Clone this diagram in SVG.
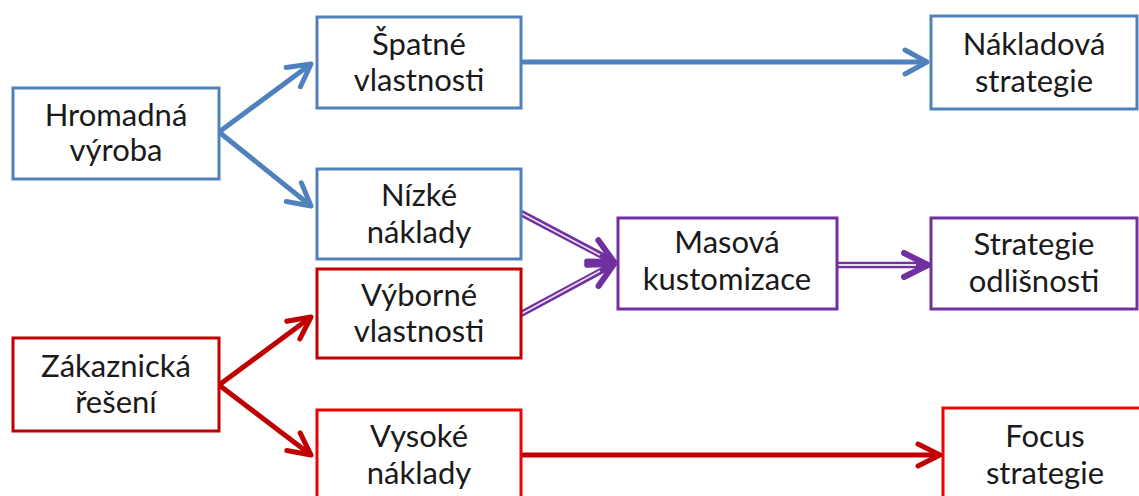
<svg xmlns="http://www.w3.org/2000/svg" width="1139" height="496" viewBox="0 0 1139 496">
<style>
.box{fill:#fff;stroke-width:3}
.b{stroke:#4F81BD}
.r{stroke:#C00000}
.rr{stroke:#F00000}
.p{stroke:#7030A0}
text{font-family:Lato,"Liberation Sans",sans-serif;font-size:31px;fill:#1a1a1a;text-anchor:middle}
.ln{fill:none;stroke-width:5}
.dbl{fill:none;stroke:#7030A0;stroke-width:6.5}
.dblw{fill:none;stroke:#e8e0ee;stroke-width:1.8}
</style>
<defs>
<marker id="hb" markerUnits="userSpaceOnUse" markerWidth="30" markerHeight="30" refX="0" refY="0" orient="auto" overflow="visible"><path d="M-22,-12 L0,0 L-22,12" fill="none" stroke="#4F81BD" stroke-width="5" stroke-linecap="round" stroke-linejoin="round"/></marker>
<marker id="hr" markerUnits="userSpaceOnUse" markerWidth="30" markerHeight="30" refX="0" refY="0" orient="auto" overflow="visible"><path d="M-22,-11 L0,0 L-22,11" fill="none" stroke="#C00000" stroke-width="5" stroke-linecap="round" stroke-linejoin="round"/></marker>
<marker id="hp" markerUnits="userSpaceOnUse" markerWidth="30" markerHeight="30" refX="0" refY="0" orient="auto" overflow="visible"><path d="M-24,-12 L0,0 L-24,12" fill="none" stroke="#7030A0" stroke-width="6" stroke-linecap="round" stroke-linejoin="round"/></marker>
</defs>
<rect width="1139" height="496" fill="#fff"/>
<g id="connectors">
<line class="ln b" x1="219" y1="132" x2="311" y2="64" marker-end="url(#hb)"/>
<line class="ln b" x1="219" y1="132" x2="311" y2="206" marker-end="url(#hb)"/>
<line class="ln b" x1="521" y1="62" x2="927" y2="62" marker-end="url(#hb)"/>
<line class="ln r" x1="219" y1="385" x2="311" y2="317" marker-end="url(#hr)"/>
<line class="ln r" x1="219" y1="385" x2="311" y2="455" marker-end="url(#hr)"/>
<line class="ln r" x1="521" y1="455" x2="940" y2="455" marker-end="url(#hr)"/>
<line class="dbl" x1="521" y1="213" x2="614" y2="262" marker-end="url(#hp)"/>
<line class="dblw" x1="521" y1="213" x2="600" y2="255"/>
<line class="dbl" x1="521" y1="314" x2="614" y2="264" marker-end="url(#hp)"/>
<line class="dblw" x1="521" y1="314" x2="600" y2="271"/>
<line class="dbl" x1="837" y1="265" x2="928" y2="265" marker-end="url(#hp)"/>
<line class="dblw" x1="837" y1="265" x2="916" y2="265"/>
</g>
<g id="hromadna"><rect class="box b" x="13" y="88" width="206" height="91"/><text x="116" y="126">Hromadná</text><text x="116" y="161">výroba</text></g>
<g id="spatne"><rect class="box b" x="317" y="17" width="204" height="91"/><text x="419" y="55">Špatné</text><text x="419" y="91">vlastnosti</text></g>
<g id="nizke"><rect class="box b" x="317" y="169" width="204" height="90"/><text x="419" y="206">Nízké</text><text x="419" y="243">náklady</text></g>
<g id="vyborne"><rect class="box r" x="317" y="269" width="204" height="89"/><text x="419" y="306">Výborné</text><text x="419" y="342">vlastnosti</text></g>
<g id="zakaznicka"><rect class="box r" x="13" y="338" width="206" height="93"/><text x="116" y="377">Zákaznická</text><text x="116" y="413">řešení</text></g>
<g id="vysoke"><rect class="box rr" x="317" y="410" width="204" height="100"/><text x="419" y="447">Vysoké</text><text x="419" y="484">náklady</text></g>
<g id="masova"><rect class="box p" x="618" y="218" width="219" height="91"/><text x="727" y="253">Masová</text><text x="727" y="290">kustomizace</text></g>
<g id="nakladova"><rect class="box b" x="931" y="16" width="206" height="93"/><text x="1034" y="55">Nákladová</text><text x="1034" y="92">strategie</text></g>
<g id="odlisnosti"><rect class="box p" x="931" y="218" width="206" height="91"/><text x="1034" y="255">Strategie</text><text x="1034" y="292">odlišnosti</text></g>
<g id="focus"><rect class="box rr" x="943" y="408" width="210" height="100"/><text x="1045" y="447">Focus</text><text x="1045" y="484">strategie</text></g>
</svg>
